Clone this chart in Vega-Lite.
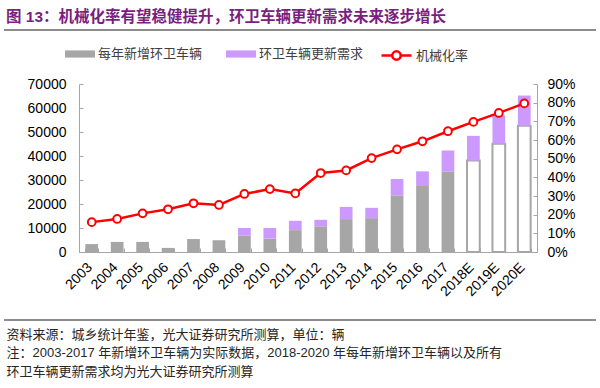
{
  "$schema": "https://vega.github.io/schema/vega-lite/v6.json",
  "width": 458,
  "height": 168,
  "autosize": {"type": "none"},
  "padding": {"left": 79, "top": 84, "right": 63, "bottom": 136},
  "background": "white",
  "title": {
    "text": "图 13：机械化率有望稳健提升，环卫车辆更新需求未来逐步增长",
    "anchor": "start",
    "frame": "group",
    "dx": -73,
    "fontSize": 15.5,
    "fontWeight": "bold",
    "color": "#7a1f80",
    "font": "Liberation Sans, Noto Sans CJK SC"
  },
  "datasets": {
    "bars": [
      {"year": "2003", "series": "每年新增环卫车辆", "value": 3300, "est": false},
      {"year": "2004", "series": "每年新增环卫车辆", "value": 4200, "est": false},
      {"year": "2005", "series": "每年新增环卫车辆", "value": 4200, "est": false},
      {"year": "2006", "series": "每年新增环卫车辆", "value": 1700, "est": false},
      {"year": "2007", "series": "每年新增环卫车辆", "value": 5400, "est": false},
      {"year": "2008", "series": "每年新增环卫车辆", "value": 4900, "est": false},
      {"year": "2009", "series": "每年新增环卫车辆", "value": 6800, "est": false},
      {"year": "2010", "series": "每年新增环卫车辆", "value": 5600, "est": false},
      {"year": "2011", "series": "每年新增环卫车辆", "value": 9100, "est": false},
      {"year": "2012", "series": "每年新增环卫车辆", "value": 10700, "est": false},
      {"year": "2013", "series": "每年新增环卫车辆", "value": 13700, "est": false},
      {"year": "2014", "series": "每年新增环卫车辆", "value": 14100, "est": false},
      {"year": "2015", "series": "每年新增环卫车辆", "value": 23600, "est": false},
      {"year": "2016", "series": "每年新增环卫车辆", "value": 27500, "est": false},
      {"year": "2017", "series": "每年新增环卫车辆", "value": 33500, "est": false},
      {"year": "2018E", "series": "每年新增环卫车辆", "value": 38100, "est": true},
      {"year": "2019E", "series": "每年新增环卫车辆", "value": 45100, "est": true},
      {"year": "2020E", "series": "每年新增环卫车辆", "value": 52600, "est": true},
      {"year": "2009", "series": "环卫车辆更新需求", "value": 3200, "est": false},
      {"year": "2010", "series": "环卫车辆更新需求", "value": 4400, "est": false},
      {"year": "2011", "series": "环卫车辆更新需求", "value": 3900, "est": false},
      {"year": "2012", "series": "环卫车辆更新需求", "value": 2700, "est": false},
      {"year": "2013", "series": "环卫车辆更新需求", "value": 5100, "est": false},
      {"year": "2014", "series": "环卫车辆更新需求", "value": 4300, "est": false},
      {"year": "2015", "series": "环卫车辆更新需求", "value": 6800, "est": false},
      {"year": "2016", "series": "环卫车辆更新需求", "value": 6100, "est": false},
      {"year": "2017", "series": "环卫车辆更新需求", "value": 8800, "est": false},
      {"year": "2018E", "series": "环卫车辆更新需求", "value": 10300, "est": false},
      {"year": "2019E", "series": "环卫车辆更新需求", "value": 11900, "est": false},
      {"year": "2020E", "series": "环卫车辆更新需求", "value": 12600, "est": false}
    ],
    "rate": [
      {"year": "2003", "rate": 0.160},
      {"year": "2004", "rate": 0.177},
      {"year": "2005", "rate": 0.207},
      {"year": "2006", "rate": 0.229},
      {"year": "2007", "rate": 0.261},
      {"year": "2008", "rate": 0.252},
      {"year": "2009", "rate": 0.311},
      {"year": "2010", "rate": 0.337},
      {"year": "2011", "rate": 0.314},
      {"year": "2012", "rate": 0.423},
      {"year": "2013", "rate": 0.437},
      {"year": "2014", "rate": 0.503},
      {"year": "2015", "rate": 0.550},
      {"year": "2016", "rate": 0.593},
      {"year": "2017", "rate": 0.647},
      {"year": "2018E", "rate": 0.697},
      {"year": "2019E", "rate": 0.745},
      {"year": "2020E", "rate": 0.796}
    ],
    "deco": [{"k": 1}]
  },
  "layer": [
    {
      "data": {"name": "deco"},
      "mark": {"type": "rule", "stroke": "#666666", "strokeWidth": 1.5},
      "encoding": {"x": {"value": -75}, "x2": {"value": 517}, "y": {"value": -54}}
    },
    {
      "data": {"name": "deco"},
      "mark": {"type": "rule", "stroke": "#666666", "strokeWidth": 1.5},
      "encoding": {"x": {"value": -75}, "x2": {"value": 517}, "y": {"value": 236}}
    },
    {
      "data": {"name": "bars"},
      "mark": {"type": "bar", "strokeWidth": 2},
      "encoding": {
        "x": {
          "field": "year",
          "type": "ordinal",
          "scale": {"paddingInner": 0.5, "paddingOuter": 0.25},
          "axis": {
            "title": [
              "资料来源：城乡统计年鉴，光大证券研究所测算，单位：辆",
              "注：2003-2017 年新增环卫车辆为实际数据，2018-2020 年每年新增环卫车辆以及所有",
              "环卫车辆更新需求均为光大证券研究所测算"
            ],
            "titleAnchor": "start",
            "titleAlign": "left",
            "titleBaseline": "top",
            "titleX": -73,
            "titleY": 76,
            "titleLineHeight": 18.5,
            "titleFont": "Liberation Sans, Noto Sans CJK SC",
            "titleFontSize": 13,
            "titleFontWeight": "normal",
            "titleColor": "#262626",
            "labelAngle": -45,
            "labelFont": "Liberation Sans",
            "labelFontSize": 14,
            "labelColor": "#000000",
            "labelOffset": -7,
            "labelPadding": 12,
            "tickBand": "extent",
            "tickSize": -4,
            "tickColor": "#a6a6a6",
            "domainColor": "#a6a6a6"
          }
        },
        "y": {
          "field": "value",
          "type": "quantitative",
          "stack": "zero",
          "scale": {"domain": [0, 70000]},
          "axis": {
            "orient": "left",
            "title": null,
            "values": [0, 10000, 20000, 30000, 40000, 50000, 60000, 70000],
            "format": "d",
            "grid": false,
            "labelFont": "Liberation Sans",
            "labelFontSize": 14,
            "labelColor": "#000000",
            "tickSize": -4,
            "labelPadding": 17,
            "tickColor": "#a6a6a6",
            "domainColor": "#a6a6a6"
          }
        },
        "order": {"field": "series", "sort": "ascending"},
        "color": {
          "condition": {"test": "datum.est", "value": "white"},
          "field": "series",
          "type": "nominal",
          "scale": {"domain": ["每年新增环卫车辆", "环卫车辆更新需求"], "range": ["#a6a6a6", "#cc99ff"]},
          "legend": {
            "orient": "none",
            "legendX": -14,
            "legendY": -45,
            "direction": "horizontal",
            "title": null,
            "padding": 0,
            "symbolType": "M-1,-0.24H1V0.24H-1Z",
            "symbolSize": 900,
            "symbolStrokeWidth": 0,
            "labelFont": "Noto Sans CJK SC",
            "labelFontSize": 13,
            "labelColor": "#404040",
            "labelOffset": 3,
            "columnPadding": 23
          }
        },
        "stroke": {
          "condition": {"test": "datum.est", "value": "#a6a6a6"},
          "value": null
        }
      }
    },
    {
      "data": {"name": "rate"},
      "encoding": {
        "x": {
          "field": "year",
          "type": "ordinal",
          "scale": {"paddingInner": 0.5, "paddingOuter": 0.25}
        },
        "y": {
          "field": "rate",
          "type": "quantitative",
          "scale": {"domain": [0, 0.9]},
          "axis": {
            "orient": "right",
            "title": null,
            "values": [0, 0.1, 0.2, 0.3, 0.4, 0.5, 0.6, 0.7, 0.8, 0.9],
            "format": ".0%",
            "grid": false,
            "labelFont": "Liberation Sans",
            "labelFontSize": 14,
            "labelColor": "#000000",
            "tickSize": -4,
            "labelPadding": 14,
            "tickColor": "#a6a6a6",
            "domainColor": "#a6a6a6"
          }
        }
      },
      "layer": [
        {
          "mark": {"type": "line", "strokeWidth": 2.5},
          "encoding": {
            "stroke": {
              "datum": "机械化率",
              "type": "nominal",
              "scale": {"range": ["#ff0000"]},
              "legend": {
                "orient": "none",
                "legendX": 301,
                "legendY": -45,
                "title": null,
                "padding": 0,
                "symbolType": "M-1,0H-0.28M0.28,0H1M-0.28,0A0.28,0.28 0 1,1 0.28,0A0.28,0.28 0 1,1 -0.28,0",
                "symbolSize": 900,
                "symbolStrokeWidth": 2.5,
                "labelFont": "Noto Sans CJK SC",
                "labelFontSize": 13,
                "labelColor": "#404040",
                "labelOffset": 3,
                "encode": {"symbols": {"update": {"fill": {"value": "white"}, "stroke": {"value": "#ff0000"}}}}
              }
            }
          }
        },
        {
          "mark": {"type": "point", "filled": true, "fill": "white", "stroke": "#ff0000", "strokeWidth": 2, "size": 60, "opacity": 1}
        }
      ]
    }
  ],
  "resolve": {"scale": {"y": "independent"}},
  "config": {"view": {"strokeWidth": 0}}
}
